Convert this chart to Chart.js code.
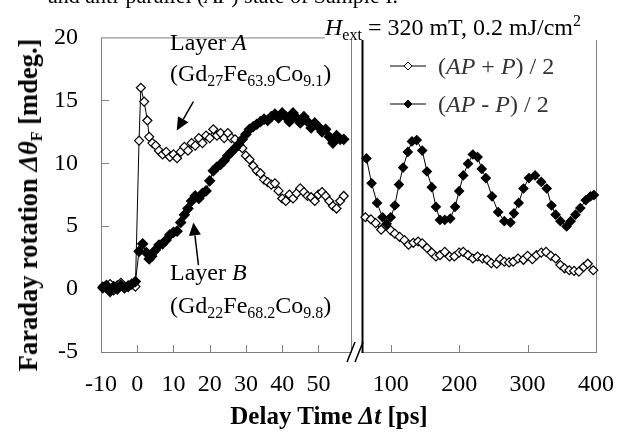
<!DOCTYPE html>
<html>
<head>
<meta charset="utf-8">
<script src="https://cdn.jsdelivr.net/npm/chart.js@4.4.0/dist/chart.umd.min.js"></script>
<style>
  body { margin: 0; background: #fff; }
  #wrap { position: relative; width: 632px; height: 439px; overflow: hidden;
          font-family: "Liberation Serif", "Times New Roman", serif; color: #000; }
  canvas { position: absolute; top: 0; }
  .txt { position: absolute; white-space: nowrap; font-size: 24px; line-height: 24px; }
  .txt sub { font-size: 16px; line-height: 0; vertical-align: -5px; }
  .txt sup { font-size: 16px; line-height: 0; vertical-align: 9px; }
  .bold { font-weight: bold; }
  #hdr { background: #fff; top: 10px; left: 325px; width: 307px; height: 30px; padding-top: 5px; box-sizing: border-box; }
  .leg { position: absolute; left: 390px; height: 24px; display: flex; align-items: center;
         font-size: 24px; color: #333; white-space: nowrap; }
  .leg svg { margin-right: 12px; }
</style>
</head>
<body>
<div id="wrap">
  <canvas id="left" width="368" height="439" style="left:0"></canvas>
  <canvas id="right" width="276" height="439" style="left:356px"></canvas>

  <div class="txt" style="left:48px; top:-16px; font-size:22px">and anti-parallel (<i>AP</i>) state of Sample I.</div>
  <div class="txt" id="hdr"><i>H</i><sub>ext</sub> = 320 mT, 0.2 mJ/cm<sup>2</sup></div>

  <div class="txt" style="left:170px; top:30px">Layer <i>A</i></div>
  <div class="txt" style="left:170px; top:61px">(Gd<sub>27</sub>Fe<sub>63.9</sub>Co<sub>9.1</sub>)</div>
  <div class="txt" style="left:170px; top:260px">Layer <i>B</i></div>
  <div class="txt" style="left:170px; top:293px">(Gd<sub>22</sub>Fe<sub>68.2</sub>Co<sub>9.8</sub>)</div>

  <div class="leg" style="top:54px">
    <svg width="36" height="14"><line x1="0" y1="7" x2="36" y2="7" stroke="#000" stroke-width="1"/>
      <polygon points="18,3 22,7 18,11 14,7" fill="#fff" stroke="#000" stroke-width="1"/></svg>
    <span>(<i>AP</i> + <i>P</i>) / 2</span>
  </div>
  <div class="leg" style="top:92px">
    <svg width="36" height="14"><line x1="0" y1="7" x2="36" y2="7" stroke="#000" stroke-width="1"/>
      <polygon points="18,3 22,7 18,11 14,7" fill="#000" stroke="#000" stroke-width="1"/></svg>
    <span>(<i>AP</i> - <i>P</i>) / 2</span>
  </div>

  <div class="txt bold" style="left:28px; top:205px; font-size:26.5px; transform: translate(-50%, -50%) rotate(-90deg)">Faraday rotation <i>Δθ</i><sub>F</sub> [mdeg.]</div>
  <div class="txt bold" style="left:329px; top:416px; font-size:25px; transform: translate(-50%, -50%)">Delay Time <i>Δt</i> [ps]</div>
</div>

<script>
// tick labels
const yTicks = [-5, 0, 5, 10, 15, 20];
const xTicksLeft = [-10, 0, 10, 20, 30, 40, 50];
const xTicksRight = [100, 200, 300, 400];

// (AP + P) / 2, 0 - 57 ps
const tLeftOpen = [-9.5, -8.5, -7.5, -6.5, -5.5, -4.5, -3.5, -2.5, -1.5, -0.5, 0.5, 1.0, 1.9, 2.8, 3.3, 4.2, 5.1,
  6, 7, 8, 9, 10, 11, 12, 13, 14, 15, 16, 17, 18, 19, 20, 21, 22, 23, 24, 25, 26, 27, 28, 29, 30, 31,
  32, 33, 34, 35, 36, 37, 38, 39, 40, 41, 42, 43, 44, 45, 46, 47, 48, 49, 50, 51, 52, 53, 54, 55, 56, 57];
const vLeftOpen = [0.2, 0.1, 0.4, -0.1, 0.3, 0.5, 0.1, 0.3, 0.4, 0.2, 11.8, 16.0, 14.9, 13.4, 12.1, 11.6, 11.4,
  11.0, 10.7, 10.9, 10.5, 10.7, 10.4, 10.9, 11.3, 11.0, 11.6, 11.4, 12.0, 11.6, 12.2, 12.0, 12.7, 12.2, 12.4,
  12.0, 12.4, 12.0, 11.9, 11.4, 11.2, 10.6, 10.3, 9.8, 9.4, 9.2, 8.7, 8.5, 8.3, 8.4, 7.8, 7.2, 7.0, 7.5, 7.2,
  7.6, 8.0, 7.7, 7.4, 7.3, 7.0, 7.5, 7.7, 7.4, 7.0, 6.6, 6.4, 7.0, 7.4];

// (AP - P) / 2, 0 - 57 ps
const tLeftFilled = [-9.5, -8.5, -7.5, -6.5, -5.5, -4.5, -3.5, -2.5, -1.5, -0.5, 0.5, 1.5, 2.5, 3.3,
  4, 5, 6, 7, 8, 9, 10, 11, 12, 13, 14, 15, 16, 17, 18, 19, 20, 21, 22, 23, 24, 25, 26, 27, 28, 29, 30,
  31, 32, 33, 34, 35, 36, 37, 38, 39, 40, 41, 42, 43, 44, 45, 46, 47, 48, 49, 50, 51, 52, 53, 54, 55, 56, 57];
const vLeftFilled = [0.1, 0.3, -0.2, 0.2, 0.0, 0.3, 0.1, 0.2, 0.4, 0.6, 3.0, 3.6, 2.9, 2.4,
  2.6, 3.1, 3.5, 3.6, 3.9, 4.3, 4.5, 4.6, 5.3, 5.9, 6.4, 7.0, 7.4, 7.2, 7.6, 7.8, 8.6, 9.4, 9.7, 9.9,
  10.2, 10.6, 10.9, 11.2, 11.5, 11.9, 12.3, 12.7, 12.9, 13.1, 13.3, 13.5, 13.4, 13.7, 13.9, 13.6, 14.0, 13.7,
  13.3, 14.0, 13.6, 13.2, 13.7, 13.3, 12.8, 13.2, 12.9, 12.5, 12.7, 12.1, 11.6, 12.2, 11.9, 11.9];

// 60 - 400 ps
const tRightOpen = [63, 71, 78, 86, 93, 100, 106, 113, 120, 126, 133, 140, 146, 153, 160, 166, 172, 179, 186, 193,
  200, 206, 213, 220, 227, 234, 241, 247, 255, 260, 266, 273, 279, 286, 294, 300, 307, 313, 320, 327,
  334, 341, 348, 354, 361, 368, 375, 382, 388, 396];
const vRightOpen = [5.3, 5.15, 4.85, 4.35, 4.7, 4.3, 4.05, 3.8, 3.55, 3.2, 3.35, 3.45, 3.3, 2.95, 2.6, 2.3, 2.4, 2.65, 2.3, 2.3,
  2.6, 2.65, 2.4, 2.15, 2.3, 2.15, 2.05, 1.8, 1.75, 2.1, 1.9, 1.85, 1.9, 2.15, 2.05, 2.35, 2.1, 2.4, 2.6, 2.65,
  2.35, 2.15, 1.65, 1.4, 1.25, 1.2, 1.15, 1.5, 1.75, 1.25];
const tRightFilled = [64.5, 72, 80, 88, 94, 100, 106, 112, 118, 125, 131, 138, 146, 153, 160, 166, 172, 179, 187, 194,
  200, 206, 213, 220, 227, 233, 239, 248, 257, 266, 275, 280, 287, 294, 302, 311, 320, 328, 335, 341,
  348, 357, 363, 370, 377, 385, 392, 397];
const vRightFilled = [9.8, 7.9, 6.4, 5.3, 4.8, 5.3, 6.2, 7.8, 9.1, 10.3, 11.1, 11.2, 10.4, 8.8, 7.6, 6.1, 5.1, 5.1, 5.2, 6.1,
  7.3, 8.5, 9.4, 10.1, 9.9, 9.0, 8.3, 6.9, 5.7, 5.0, 4.9, 5.6, 6.4, 7.5, 8.3, 8.5, 8.0, 7.5, 6.2, 5.5,
  5.0, 4.6, 5.0, 5.5, 6.0, 6.6, 6.9, 7.0];

Chart.defaults.font.family = "'Liberation Serif', 'Times New Roman', serif";
Chart.defaults.font.size = 24;
Chart.defaults.color = "#000";

function pts(ts, vs) {
  return ts.map((t, i) => ({ x: t, y: vs[i] }));
}

function series(ts, vs, fill, order, radius) {
  return {
    data: pts(ts, vs),
    borderColor: "#000",
    borderWidth: 1,
    backgroundColor: fill,
    pointStyle: "rectRot",
    pointRadius: radius,
    pointBorderWidth: 1.2,
    pointBackgroundColor: fill,
    pointBorderColor: "#000",
    tension: 0,
    clip: false,
    order: order
  };
}

// frame + inner ticks + arrows + axis break
const decor = {
  id: "decor",
  beforeDatasetsDraw(chart, args, o) {
    const { ctx, chartArea: a, scales } = chart;
    ctx.save();
    ctx.strokeStyle = "#808080";
    ctx.lineWidth = 1;
    ctx.strokeRect(a.left + 0.5, a.top + 0.5, a.right - a.left, a.bottom - a.top);
    ctx.beginPath();
    scales.x.ticks.forEach(t => {
      const px = Math.round(scales.x.getPixelForValue(t.value)) + 0.5;
      if (px - a.left < 3 || a.right - px < 3) return;
      ctx.moveTo(px, a.bottom);
      ctx.lineTo(px, a.bottom - 7);
    });
    if (o.yTicks) {
      scales.y.ticks.forEach(t => {
        const py = Math.round(scales.y.getPixelForValue(t.value)) + 0.5;
        if (py - a.top < 3 || a.bottom - py < 3) return;
        ctx.moveTo(a.left, py);
        ctx.lineTo(a.left + 8, py);
      });
    }
    ctx.stroke();
    if (o.darkLeft) {
      ctx.strokeStyle = "#000";
      ctx.lineWidth = 2;
      ctx.beginPath();
      ctx.moveTo(a.left + 0.5, a.top);
      ctx.lineTo(a.left + 0.5, a.bottom + 1);
      ctx.stroke();
    }
    ctx.restore();
  },
  afterDraw(chart, args, o) {
    const { ctx, chartArea: a, scales } = chart;
    ctx.save();
    ctx.strokeStyle = "#000";
    ctx.fillStyle = "#000";
    (o.arrows || []).forEach(ar => {
      const x1 = scales.x.getPixelForValue(ar[0]), y1 = scales.y.getPixelForValue(ar[1]);
      const x2 = scales.x.getPixelForValue(ar[2]), y2 = scales.y.getPixelForValue(ar[3]);
      const ang = Math.atan2(y2 - y1, x2 - x1);
      const L = 13, W = 6;
      const bx = x2 - L * Math.cos(ang), by = y2 - L * Math.sin(ang);
      ctx.lineWidth = 1.5;
      ctx.beginPath();
      ctx.moveTo(x1, y1);
      ctx.lineTo(bx, by);
      ctx.stroke();
      ctx.beginPath();
      ctx.moveTo(x2, y2);
      ctx.lineTo(bx + W * Math.sin(ang), by - W * Math.cos(ang));
      ctx.lineTo(bx - W * Math.sin(ang), by + W * Math.cos(ang));
      ctx.closePath();
      ctx.fill();
    });
    if (o.breakMark) {
      const r = a.right, b = a.bottom;
      ctx.lineWidth = 1.5;
      ctx.beginPath();
      ctx.moveTo(r - 4, b + 10); ctx.lineTo(r + 4, b - 10);
      ctx.moveTo(r + 4, b + 10); ctx.lineTo(r + 12, b - 10);
      ctx.stroke();
    }
    ctx.restore();
  }
};

function xScale(min, max, ticks) {
  return {
    type: "linear",
    min: min,
    max: max,
    afterBuildTicks: s => { s.ticks = ticks.map(v => ({ value: v })); },
    afterFit: s => { s.height = 87; },
    grid: { display: false, drawTicks: false },
    border: { display: false },
    ticks: { padding: 18, maxRotation: 0, autoSkip: false }
  };
}

new Chart(document.getElementById("left"), {
  type: "line",
  data: {
    datasets: [
      series(tLeftFilled, vLeftFilled, "#000", 0, 5),
      series(tLeftOpen, vLeftOpen, "#fff", 1, 4.5)
    ]
  },
  options: {
    responsive: false,
    animation: false,
    layout: { padding: { top: 25, right: 17, left: 0, bottom: 0 } },
    plugins: {
      legend: { display: false },
      tooltip: { enabled: false },
      decor: {
        yTicks: true,
        breakMark: true,
        arrows: [[15.5, 14.9, 10.9, 12.6], [16.9, 1.9, 15.5, 5.3]]
      }
    },
    scales: {
      x: xScale(-10, 59, xTicksLeft),
      y: {
        min: -5,
        max: 20,
        afterBuildTicks: s => { s.ticks = yTicks.map(v => ({ value: v })); },
        afterFit: s => { s.width = 101; },
        grid: { display: false, drawTicks: false },
        border: { display: false },
        ticks: { padding: 23 }
      }
    }
  },
  plugins: [decor]
});

new Chart(document.getElementById("right"), {
  type: "line",
  data: {
    datasets: [
      series(tRightFilled, vRightFilled, "#000", 0, 4.5),
      series(tRightOpen, vRightOpen, "#fff", 1, 4.5)
    ]
  },
  options: {
    responsive: false,
    animation: false,
    layout: { padding: { top: 25, right: 20, left: 5, bottom: 0 } },
    plugins: {
      legend: { display: false },
      tooltip: { enabled: false },
      decor: { darkLeft: true }
    },
    scales: {
      x: xScale(58, 400, xTicksRight),
      y: { display: false, min: -5, max: 20 }
    }
  },
  plugins: [decor]
});
</script>
</body>
</html>
